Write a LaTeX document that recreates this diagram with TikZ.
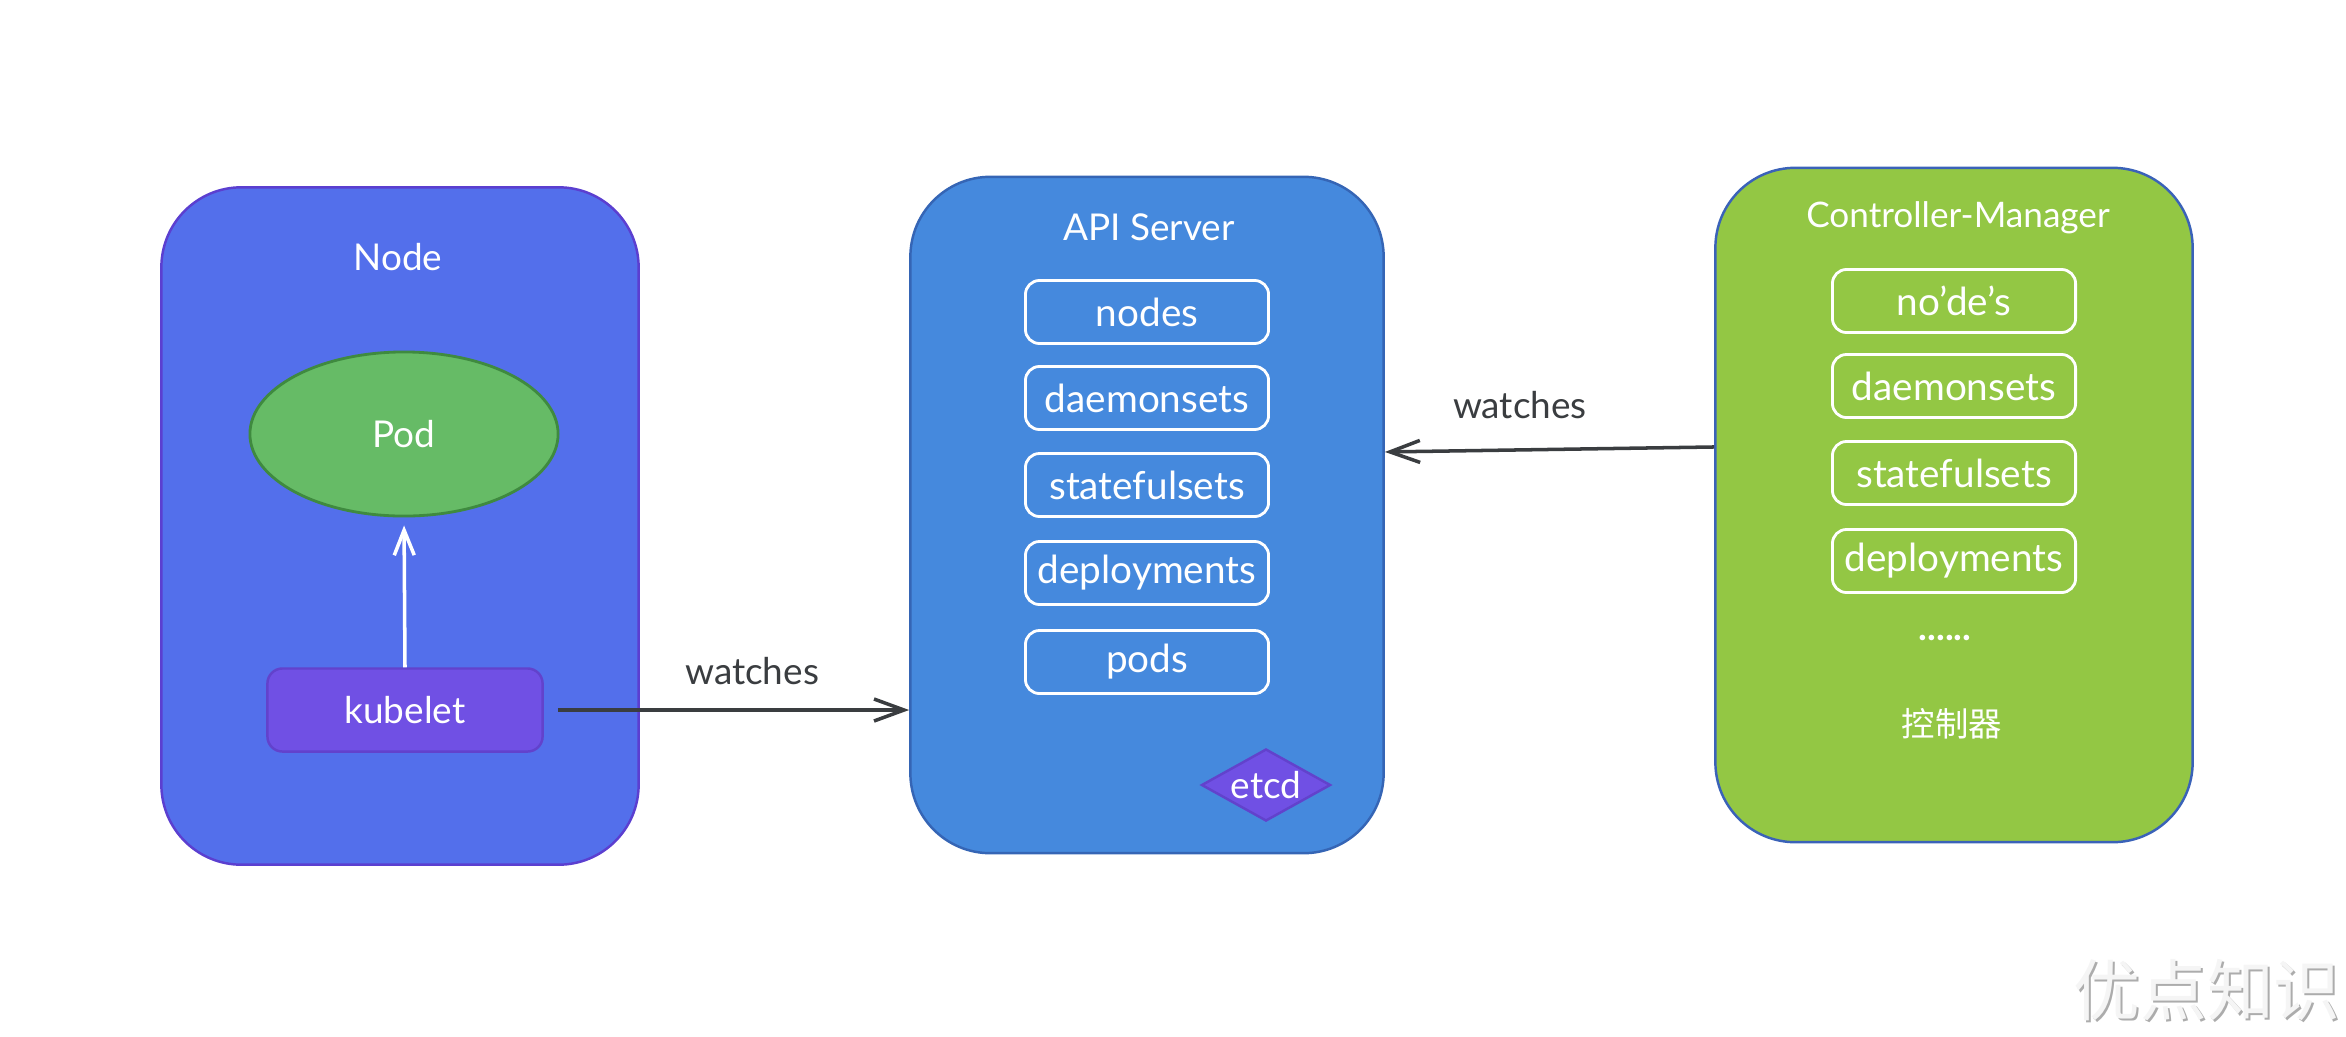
\documentclass[tikz,border=0pt]{standalone}
\usepackage{fontspec}
\setmainfont{Lato}
\newfontfamily\cjk{Noto Sans CJK SC}
\usetikzlibrary{shapes.geometric,arrows.meta}
\definecolor{nodeblue}{HTML}{536FEB}
\definecolor{nodeedge}{HTML}{5B3FD0}
\definecolor{apiblue}{HTML}{4589DD}
\definecolor{apiedge}{HTML}{3565B5}
\definecolor{cmgreen}{HTML}{93C744}
\definecolor{cmedge}{HTML}{3A62B8}
\definecolor{podgreen}{HTML}{66BB66}
\definecolor{podedge}{HTML}{3F8A3F}
\definecolor{kpurple}{HTML}{7050E4}
\definecolor{kedge}{HTML}{6242CC}
\definecolor{linegray}{HTML}{3A3D40}

\begin{document}
\begin{tikzpicture}[x=0.01cm,y=-0.01cm,
	bigbox/.style={rounded corners=0.8cm, inner sep=0pt, line width=0.7pt},
	res/.style={draw=white, line width=0.8pt, rounded corners=0.14cm, inner sep=0pt,
		minimum width=2.43cm, minimum height=0.63cm, text=white, font=\fontsize{11}{13}\selectfont},
	lbl/.style={text=white, font=\fontsize{10.5}{13}\selectfont},
	watch/.style={draw=linegray, line width=1pt, -{Straight Barb[length=0.3cm,width=0.22cm]}},
	]
	\useasboundingbox (0,0) rectangle (2346,1036);
	% the three boxes
	\node[bigbox, fill=nodeblue, draw=nodeedge, minimum width=4.77cm, minimum height=6.77cm] (node) at (400,526) {};
	\node[bigbox, fill=apiblue, draw=apiedge, minimum width=4.73cm, minimum height=6.76cm] (api) at (1147,515) {};
	\node[bigbox, fill=cmgreen, draw=cmedge, minimum width=4.77cm, minimum height=6.74cm] (cm) at (1954,505) {};
	\node[lbl] (nodetitle) at (398,257) {Node};
	\node[lbl] (apititle) at (1149,227) {API Server};
	\node[lbl, font=\fontsize{10}{12}\selectfont] (cmtitle) at (1958,218) {Controller-Manager};
	% node side
	\node[ellipse, fill=podgreen, draw=podedge, line width=0.8pt, minimum width=3.08cm, minimum height=1.64cm, lbl] (pod) at (404,434) {Pod};
	\node[fill=kpurple, draw=kedge, line width=0.7pt, rounded corners=0.15cm, minimum width=2.75cm, minimum height=0.83cm, lbl] (kubelet) at (405,710) {kubelet};
	\draw[white, line width=1pt, shorten >=0.08cm, -{Straight Barb[length=0.25cm,width=0.2cm]}] (kubelet.north) -- (pod.south);
	% resources
	\foreach \y/\t [count=\i] in {312/nodes,398/daemonsets,485/statefulsets,573/deployments,662/pods}
	\node[res] (api\i) at (1147,\y) {\t};
	\foreach \y/\t [count=\i] in {301/no'de's,386/daemonsets,473/statefulsets,561/deployments}
	\node[res] (cm\i) at (1954,\y) {\t};
	\node[lbl, font=\bfseries\fontsize{10.5}{13}\selectfont] (more) at (1945,638) {......};
	\node[text=white, font=\cjk\fontsize{9.5}{12}\selectfont] (ctrl) at (1952,724) {控制器};
	\node[diamond, aspect=1.8, fill=kpurple, draw=kedge, line width=0.7pt, inner sep=0pt, minimum width=1.29cm, minimum height=0.72cm, lbl] (etcd) at (1266,785) {etcd};
	% watches
	\draw[watch, shorten <=0.14cm] (kubelet.east) -- (kubelet.east -| api.west)
		node[pos=0.57, yshift=0.39cm, text=linegray, font=\fontsize{10.5}{13}\selectfont] (w1) {watches};
	\draw[watch] ([yshift=0.58cm]cm.west) -- ([yshift=0.63cm]api.east)
		node[pos=0.59, yshift=0.45cm, text=linegray, font=\fontsize{10.5}{13}\selectfont] (w2) {watches};
	% watermark
	\node[text=gray!65, font=\cjk\fontsize{19}{22}\selectfont] at (2209,992) {优点知识};
	\node[text=gray!8, font=\cjk\fontsize{19}{22}\selectfont] (mark) at (2207,990) {优点知识};
\end{tikzpicture}
\end{document}
